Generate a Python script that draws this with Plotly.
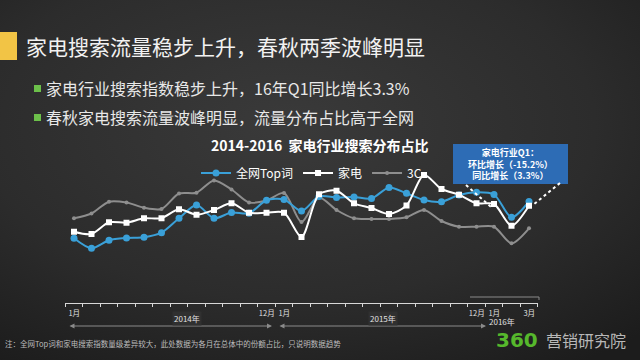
import base64
import plotly.graph_objects as go

# ---------------- data (y axis hidden, relative share units) ----------
months = list(range(27))  # Jan 2014 .. Mar 2016
month_labels = {0: "1月", 11: "12月", 12: "1月", 23: "12月", 24: "1月", 26: "3月"}

top_words = [2.17, 1.17, 1.97, 2.20, 2.27, 2.73, 4.17, 5.50, 4.17, 4.75, 4.67, 5.97, 6.05, 4.90,
             6.35, 6.25, 6.30, 6.15, 7.25, 6.67, 6.00, 5.83, 6.50, 6.77, 6.55, 4.27, 5.85]
appliance = [2.83, 2.60, 3.77, 3.73, 4.17, 4.18, 5.07, 4.53, 5.00, 5.67, 4.73, 4.73, 4.73, 2.30,
             6.57, 6.93, 5.67, 5.20, 4.60, 5.45, 8.50, 7.10, 6.53, 5.67, 5.60, 3.43, 5.43]
c3 = [4.17, 4.65, 5.83, 5.75, 5.23, 5.10, 6.65, 6.73, 7.95, 7.05, 5.75, 5.95, 6.70, 3.80,
      6.25, 5.00, 4.17, 4.10, 4.10, 4.27, 5.00, 3.90, 3.33, 3.33, 3.33, 1.67, 3.17]

series_names = ["全网Top词", "家电", "3C"]
years = ["2014年", "2015年", "2016年"]

FONT = "Noto Sans CJK SC"
W, H = 640, 360


def px(x):
    return x / W


def py(y):
    return 1 - y / H


# tick marks sit on month boundaries; labels are shifted half a month to the points
tick_vals = [m - 0.5 for m in months] + [months[-1] + 0.5]
tick_text = [month_labels.get(m, "") for m in months] + [""]

fig = go.Figure()

fig.add_trace(go.Scatter(
    x=months, y=c3, name=series_names[2], legendrank=3, mode="lines+markers",
    line=dict(color="#8e8e8e", width=2, shape="spline", smoothing=0.8),
    marker=dict(size=4, color="#8e8e8e")))
fig.add_trace(go.Scatter(
    x=months, y=top_words, name=series_names[0], legendrank=1, mode="lines+markers",
    line=dict(color="#3aa0d8", width=2, shape="spline", smoothing=0.8),
    marker=dict(size=7, color="#3aa0d8", symbol="circle")))
fig.add_trace(go.Scatter(
    x=months, y=appliance, name=series_names[1], legendrank=2, mode="lines+markers",
    line=dict(color="#ffffff", width=2, shape="spline", smoothing=0.8),
    marker=dict(size=6, color="#ffffff", symbol="square")))

# background gradient
svg = ('<svg xmlns="http://www.w3.org/2000/svg" width="640" height="360">'
       '<defs><radialGradient id="g" cx="0.45" cy="0.35" r="0.8">'
       '<stop offset="0" stop-color="#3a3a3a"/><stop offset="0.6" stop-color="#2c2c2c"/>'
       '<stop offset="1" stop-color="#1c1c1c"/></radialGradient></defs>'
       '<rect width="640" height="360" fill="url(#g)"/></svg>')
src = "data:image/svg+xml;base64," + base64.b64encode(svg.encode()).decode()

shapes = [
    # yellow header bar
    dict(type="rect", xref="paper", yref="paper", x0=0, x1=px(17), y0=py(60), y1=py(32),
         fillcolor="#f2c445", line=dict(width=0)),
    # green bullets
    dict(type="rect", xref="paper", yref="paper", x0=px(34), x1=px(41), y0=py(92), y1=py(85),
         fillcolor="#6cc04a", line=dict(width=0)),
    dict(type="rect", xref="paper", yref="paper", x0=px(34), x1=px(41), y0=py(121), y1=py(114),
         fillcolor="#6cc04a", line=dict(width=0)),
    # callout box
    dict(type="rect", xref="paper", yref="paper", x0=px(453), x1=px(568), y0=py(184), y1=py(144),
         fillcolor="#2d6cb5", line=dict(width=0)),
    # dotted leaders
    dict(type="line", xref="paper", yref="paper", x0=px(466), y0=py(185), x1=px(491), y1=py(207),
         line=dict(color="#ffffff", width=2, dash="dot")),
    dict(type="line", xref="paper", yref="paper", x0=px(560), y0=py(183), x1=px(533), y1=py(205),
         line=dict(color="#ffffff", width=2, dash="dot")),
    # 2016 bracket above the axis
    dict(type="line", xref="paper", yref="paper", x0=px(470), x1=px(539), y0=py(297), y1=py(297),
         line=dict(color="#8a8a8a", width=1)),
    dict(type="line", xref="paper", yref="paper", x0=px(539), x1=px(539), y0=py(297), y1=py(300),
         line=dict(color="#8a8a8a", width=1)),
]

ann = [
    dict(text="家电搜索流量稳步上升，春秋两季波峰明显", x=px(24), y=py(46), xanchor="left",
         yanchor="middle", font=dict(size=21, color="#f2f2f2", family=FONT)),
    dict(text="家电行业搜索指数稳步上升，16年Q1同比增长3.3%", x=px(44), y=py(88), xanchor="left",
         yanchor="middle", font=dict(size=16, color="#e8e8e8", family=FONT)),
    dict(text="春秋家电搜索流量波峰明显，流量分布占比高于全网", x=px(44), y=py(117), xanchor="left",
         yanchor="middle", font=dict(size=16, color="#e8e8e8", family=FONT)),
    dict(text="<b>2014-2016  家电行业搜索分布占比</b>", x=px(320), y=py(145), xanchor="center",
         yanchor="middle", font=dict(size=14, color="#ffffff", family=FONT)),
    dict(text="<b>家电行业Q1：<br>环比增长（-15.2%）<br>同比增长（3.3%）</b>", x=px(510), y=py(164),
         xanchor="center", yanchor="middle", align="center",
         font=dict(size=9, color="#ffffff", family=FONT)),
    dict(text="注：全网Top词和家电搜索指数量级差异较大，此处数据为各月在总体中的份额占比，只说明数据趋势",
         x=px(3), y=py(343), xanchor="left", yanchor="middle",
         font=dict(size=7.5, color="#bdbdbd", family=FONT)),
    dict(text="<b>360</b>", x=px(494), y=py(340), xanchor="left", yanchor="middle",
         font=dict(size=20, color="#56b82c", family="DejaVu Sans")),
    dict(text="营销研究院", x=px(544), y=py(340), xanchor="left", yanchor="middle",
         font=dict(size=16, color="#b8b8b8", family=FONT)),
    # year arrows
    dict(text="", x=px(272), y=py(326), ax=-204, ay=0, showarrow=True, arrowside="end+start",
         arrowhead=2, arrowsize=1, arrowwidth=1, arrowcolor="#8a8a8a"),
    dict(text="", x=px(486), y=py(326), ax=-208, ay=0, showarrow=True, arrowside="end+start",
         arrowhead=2, arrowsize=1, arrowwidth=1, arrowcolor="#8a8a8a"),
    dict(text=years[0], x=px(172), y=py(326), bgcolor="#303030",
         font=dict(size=8, color="#e0e0e0", family=FONT)),
    dict(text=years[1], x=px(383), y=py(326), bgcolor="#303030",
         font=dict(size=8, color="#e0e0e0", family=FONT)),
    dict(text=years[2], x=px(517), y=py(329),
         font=dict(size=8, color="#e0e0e0", family=FONT)),
]
for a in ann:
    a.setdefault("xref", "paper")
    a.setdefault("yref", "paper")
    a.setdefault("showarrow", False)

fig.update_layout(
    width=W, height=H, autosize=False,
    margin=dict(l=0, r=0, t=0, b=0),
    paper_bgcolor="#2a2a2a", plot_bgcolor="rgba(0,0,0,0)",
    font=dict(family=FONT, color="#ffffff"),
    images=[dict(source=src, xref="paper", yref="paper", x=0, y=1, sizex=1, sizey=1,
                 sizing="stretch", layer="below", xanchor="left", yanchor="top")],
    shapes=shapes, annotations=ann,
    showlegend=True,
    legend=dict(orientation="h", x=px(196), y=py(173), xanchor="left", yanchor="middle",
                bgcolor="rgba(0,0,0,0)", font=dict(size=12, color="#ffffff", family=FONT),
                itemwidth=30, tracegroupgap=0, traceorder="normal"),
    xaxis=dict(domain=[px(65.25), px(537.75)], range=[-0.5, 26.5], showgrid=False,
               zeroline=False, showline=True, linecolor="#d8d8d8", linewidth=1,
               tickmode="array", tickvals=tick_vals, ticktext=tick_text,
               ticks="outside", ticklen=3, tickcolor="#d8d8d8", tickwidth=1,
               ticklabelshift=9, ticklabelstandoff=0,
               tickfont=dict(size=7.5, color="#e0e0e0", family=FONT)),
    yaxis=dict(domain=[py(303), py(150)], range=[-4.3, 11], showgrid=False, zeroline=False,
               showticklabels=False, showline=False),
)

fig.write_html("out.html", config={"displayModeBar": False, "staticPlot": True},
               post_script="document.body.style.margin='0';document.body.style.background='#2a2a2a';")
